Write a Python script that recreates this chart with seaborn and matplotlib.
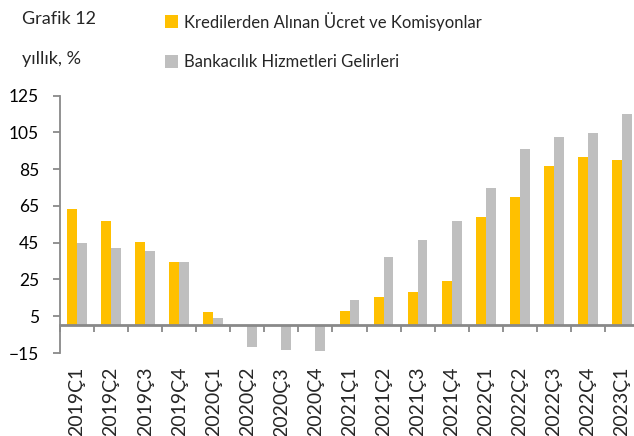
import matplotlib
matplotlib.use("Agg")
import matplotlib.pyplot as plt
import seaborn as sns
import pandas as pd
import numpy as np

quarters = ["2019Ç1", "2019Ç2", "2019Ç3", "2019Ç4", "2020Ç1", "2020Ç2", "2020Ç3", "2020Ç4",
            "2021Ç1", "2021Ç2", "2021Ç3", "2021Ç4", "2022Ç1", "2022Ç2", "2022Ç3", "2022Ç4",
            "2023Ç1"]
kredi = [63.2, 57.0, 45.4, 34.4, 7.1, 0.0, 0.0, 0.0,
         8.0, 15.7, 17.9, 24.3, 58.8, 69.8, 86.5, 91.4, 90.1]
banka = [45.0, 42.2, 40.5, 34.4, 4.2, -11.7, -13.6, -14.1,
         13.6, 37.3, 46.5, 56.8, 74.9, 96.0, 102.6, 104.4, 115.2]
series_names = ["Kredilerden Alınan Ücret ve Komisyonlar", "Bankacılık Hizmetleri Gelirleri"]
colors = ["#FFC000", "#BFBFBF"]
y_ticks = [-15, 5, 25, 45, 65, 85, 105, 125]

df = pd.DataFrame({
    "quarter": quarters * 2,
    "series": [series_names[0]] * len(quarters) + [series_names[1]] * len(quarters),
    "value": kredi + banka,
})

sns.set_theme(style="white")
plt.rcParams["font.family"] = ["Lato", "DejaVu Sans"]
axis_gray = "#898989"

fig = plt.figure(figsize=(6.34, 4.36), dpi=100)
ax = fig.add_axes([60 / 634, 1 - 353 / 436, 579 / 634, (353 - 95.5) / 436])

sns.barplot(data=df, x="quarter", y="value", hue="series", hue_order=series_names,
            palette=dict(zip(series_names, colors)), width=0.58, saturation=1,
            linewidth=0, order=quarters, ax=ax)

ax.set_ylim(-15, 125)
ax.set_xlim(-0.5, len(quarters) - 0.5)
ax.set_yticks(y_ticks)
ax.set_xlabel("")
ax.set_ylabel("")

for s in ["top", "right"]:
    ax.spines[s].set_visible(False)
ax.spines["left"].set_color(axis_gray)
ax.spines["left"].set_linewidth(1.3)
ax.spines["bottom"].set_position(("data", 0))
ax.spines["bottom"].set_color(axis_gray)
ax.spines["bottom"].set_linewidth(2)

ax.tick_params(axis="y", direction="out", length=5, width=1.3, color=axis_gray,
               labelsize=12.5, pad=10, left=True, labelcolor="black")
# boundary ticks on the zero line, no labels there
ax.set_xticks(np.arange(-0.5, len(quarters), 1.0), minor=True)
ax.tick_params(axis="x", which="minor", direction="out", length=5, width=1.3,
               color=axis_gray, bottom=True)
ax.tick_params(axis="x", which="major", length=0, labelbottom=False)

sec = ax.secondary_xaxis("bottom")
sec.set_xticks(range(len(quarters)), labels=quarters, rotation=90)
sec.tick_params(length=0, labelsize=14, pad=10)
sec.spines["bottom"].set_visible(False)

sns.move_legend(ax, "upper left", bbox_to_anchor=(158 / 634, 1 - 5 / 436),
                bbox_transform=fig.transFigure, frameon=False, title=None,
                fontsize=12, handlelength=0.8, handleheight=0.8,
                handletextpad=0.35, labelspacing=1.4, borderaxespad=0)

fig.text(22 / 634, 1 - 19 / 436, "Grafik 12", fontsize=13, va="center", ha="left")
fig.text(22 / 634, 1 - 59 / 436, "yıllık, %", fontsize=13, va="center", ha="left")

fig.savefig("out.png", dpi=100)
